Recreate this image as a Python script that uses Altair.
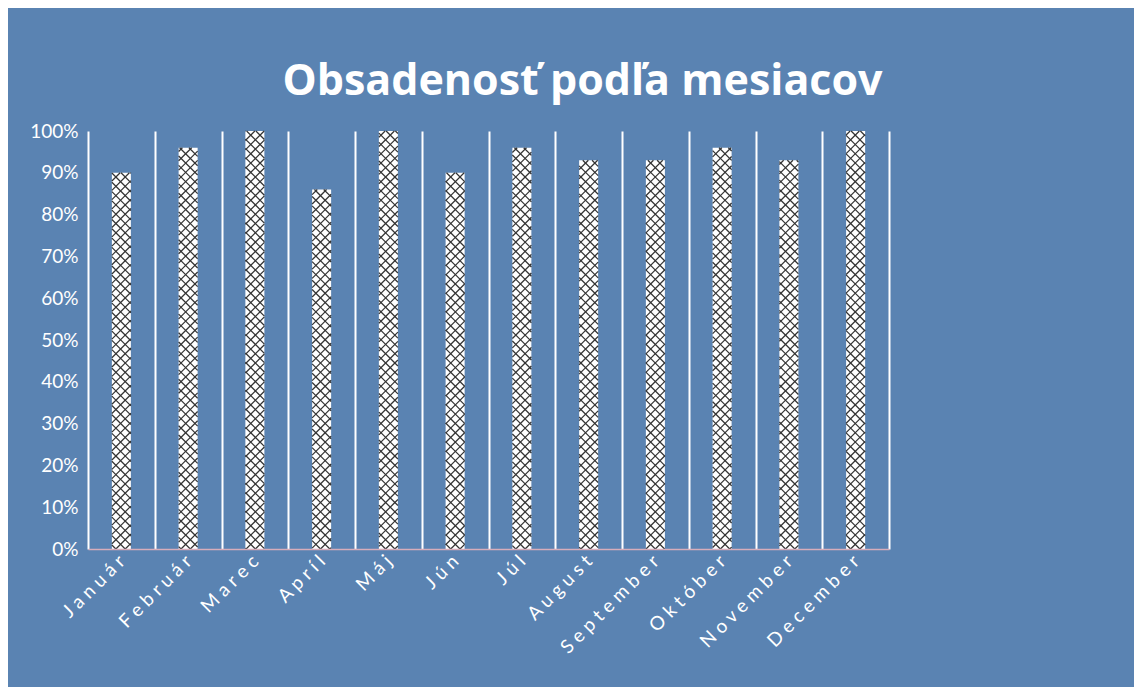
import math
import altair as alt
import pandas as pd

# ---- data ----
months = ["Január", "Február", "Marec", "Apríl", "Máj", "Jún",
          "Júl", "August", "September", "Október", "November", "December"]
occupancy = [0.90, 0.96, 1.00, 0.86, 1.00, 0.90,
             0.96, 0.93, 0.93, 0.96, 0.93, 1.00]
y_ticks = [0, 0.1, 0.2, 0.3, 0.4, 0.5, 0.6, 0.7, 0.8, 0.9, 1.0]
title_text = "Obsadenosť podľa mesiacov"

# ---- styling ----
BG = "#5A83B2"
PLOT_W, PLOT_H = 801, 418
BAR_PX = 19
HATCH_STEP = 9.3
FONT = "Lato"

bars = pd.DataFrame({"month": months, "value": occupancy})

# crosshatch fill of each bar: diagonal segments derived from each bar's value
n = len(months)
band = PLOT_W / n
rows = []
for i, v in enumerate(occupancy):
    xl = i * band + (band - BAR_PX) / 2
    xr = xl + BAR_PX
    h = v * PLOT_H
    s = HATCH_STEP
    for k in range(math.floor((xl - h) / s) - 1, math.ceil(xr / s) + 2):
        c = k * s
        lo, hi = max(xl, c), min(xr, c + h)
        if hi - lo > 0.05:
            rows.append({"x": lo / band, "x2": hi / band,
                         "y": (lo - c) / PLOT_H, "y2": (hi - c) / PLOT_H})
    for k in range(math.floor(xl / s) - 1, math.ceil((xr + h) / s) + 2):
        c = k * s
        lo, hi = max(xl, c - h), min(xr, c)
        if hi - lo > 0.05:
            rows.append({"x": lo / band, "x2": hi / band,
                         "y": (c - lo) / PLOT_H, "y2": (c - hi) / PLOT_H})
hatch = pd.DataFrame(rows)

yscale = alt.Scale(domain=[0, 1], nice=False)

bar_layer = alt.Chart(bars).mark_bar(size=BAR_PX, color="white").encode(
    x=alt.X("month:N", sort=months,
            scale=alt.Scale(paddingInner=0, paddingOuter=0),
            axis=alt.Axis(title=None, grid=True, gridColor="white", gridWidth=2,
                          gridOpacity=1, tickBand="extent", ticks=False,
                          domain=True, domainColor="#D7ADBA", domainWidth=1.5,
                          labelAngle=-45, labelAlign="right", labelBaseline="middle",
                          labelPadding=9, labelColor="white", labelFont=FONT,
                          labelFontSize=19,
                          labelExpr="join(split(datum.label, ''), ' ')",
                          zindex=1)),
    y=alt.Y("value:Q", scale=yscale,
            axis=alt.Axis(title=None, values=y_ticks, format=".0%", grid=False,
                          ticks=False, domain=False, labelColor="white",
                          labelFont=FONT, labelFontSize=19, labelPadding=10)),
)

hatch_layer = alt.Chart(hatch).mark_rule(color="#333333", strokeWidth=1.25).encode(
    x=alt.X("x:Q", scale=alt.Scale(domain=[0, n], nice=False, zero=False), axis=None),
    x2="x2:Q",
    y=alt.Y("y:Q", scale=yscale),
    y2="y2:Q",
)

chart = alt.layer(bar_layer, hatch_layer).resolve_scale(x="independent").properties(
    width=PLOT_W,
    height=PLOT_H,
    title=alt.TitleParams(title_text, font="Open Sans", fontSize=43, fontWeight="bold",
                          color="white", anchor="middle", frame="group",
                          dx=94, offset=18),
    autosize=alt.AutoSizeParams(type="none"),
    padding={"left": 80, "top": 123, "right": 245, "bottom": 138},
).configure(background=BG).configure_view(stroke=None)

chart.save("out.html", embed_options={"renderer": "svg", "actions": False})
